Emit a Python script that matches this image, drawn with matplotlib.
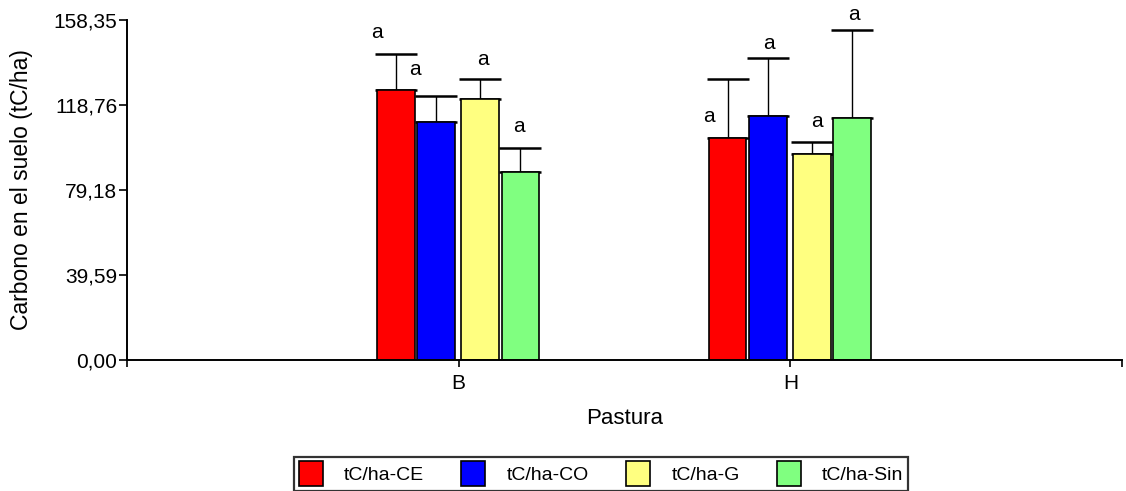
import numpy as np
import matplotlib
matplotlib.use("Agg")
import matplotlib.pyplot as plt
from matplotlib.ticker import FuncFormatter

plt.rcParams["font.family"] = ["Liberation Sans", "DejaVu Sans"]

# data
groups = ["B", "H"]
series = ["tC/ha-CE", "tC/ha-CO", "tC/ha-G", "tC/ha-Sin"]
ce = [125.8, 103.3]
co = [111.0, 113.6]
g = [121.6, 96.1]
sin = [87.4, 112.7]
ce_err = [16.9, 27.7]
co_err = [12.1, 27.2]
g_err = [9.4, 5.3]
sin_err = [11.5, 41.1]
letters = [["a", "a"], ["a", "a"], ["a", "a"], ["a", "a"]]
y_max = 158.35

colors = ["#FF0000", "#0000FF", "#FFFF80", "#80FF80"]
offsets = [-0.189, -0.068, 0.065, 0.186]
bar_w = 0.113
# label offsets (points) relative to the top of each error bar
label_dx = [[-13.5, -13.3], [-15.0, 0.9], [2.2, 3.4], [-0.7, 1.7]]
label_dy = [[14.9, -27.4], [19.2, 10.4], [13.5, 14.8], [15.1, 11.3]]

values = [ce, co, g, sin]
errors = [ce_err, co_err, g_err, sin_err]

fig = plt.figure(figsize=(11.26, 4.91), dpi=100)
ax = fig.add_axes([127 / 1126, 131 / 491, 995 / 1126, 340 / 491])

x = np.arange(1, len(groups) + 1)
for i, name in enumerate(series):
    xs = x + offsets[i]
    ax.bar(xs, values[i], bar_w, color=colors[i], edgecolor="black",
           linewidth=1.2, label=name, zorder=2)
    ax.errorbar(xs, values[i], yerr=[[0] * len(groups), errors[i]],
                fmt="none", ecolor="black", elinewidth=1.0, capsize=14.8,
                capthick=1.8, zorder=1)
    for j in range(len(groups)):
        ax.annotate(letters[i][j], xy=(xs[j], values[i][j] + errors[i][j]),
                    xytext=(label_dx[i][j], label_dy[i][j]),
                    textcoords="offset points", ha="center", va="center",
                    fontsize=15)

ax.set_xlim(0, 3)
ax.set_ylim(0, y_max)
ax.set_yticks(np.linspace(0, y_max, 5))
ax.yaxis.set_major_formatter(
    FuncFormatter(lambda v, p: f"{round(v + 1e-9, 2):.2f}".replace(".", ",")))
ax.set_xticks([0, 1, 2, 3])
ax.set_xticklabels([""] + groups + [""])

for side in ["top", "right"]:
    ax.spines[side].set_visible(False)
for side in ["left", "bottom"]:
    ax.spines[side].set_linewidth(1.4)

ax.tick_params(axis="y", direction="out", length=6, width=1.2, labelsize=15, pad=1)
ax.tick_params(axis="x", direction="out", length=5, width=1.2, labelsize=15, pad=5)

ax.set_ylabel("Carbono en el suelo (tC/ha)", fontsize=16.5)
ax.yaxis.set_label_coords(-0.094, 0.5)
ax.set_xlabel("Pastura", fontsize=16)
ax.xaxis.set_label_coords(0.5, -0.14)

leg = fig.legend(loc="center", bbox_to_anchor=(601 / 1126, 1 - 473.7 / 491),
                 ncol=4, fontsize=14, frameon=True, fancybox=False,
                 edgecolor="black", handlelength=1.24, handleheight=1.56,
                 handletextpad=1.1, columnspacing=1.9, borderpad=0.25)
leg.get_frame().set_linewidth(1.6)

fig.savefig("out.png", dpi=100)
